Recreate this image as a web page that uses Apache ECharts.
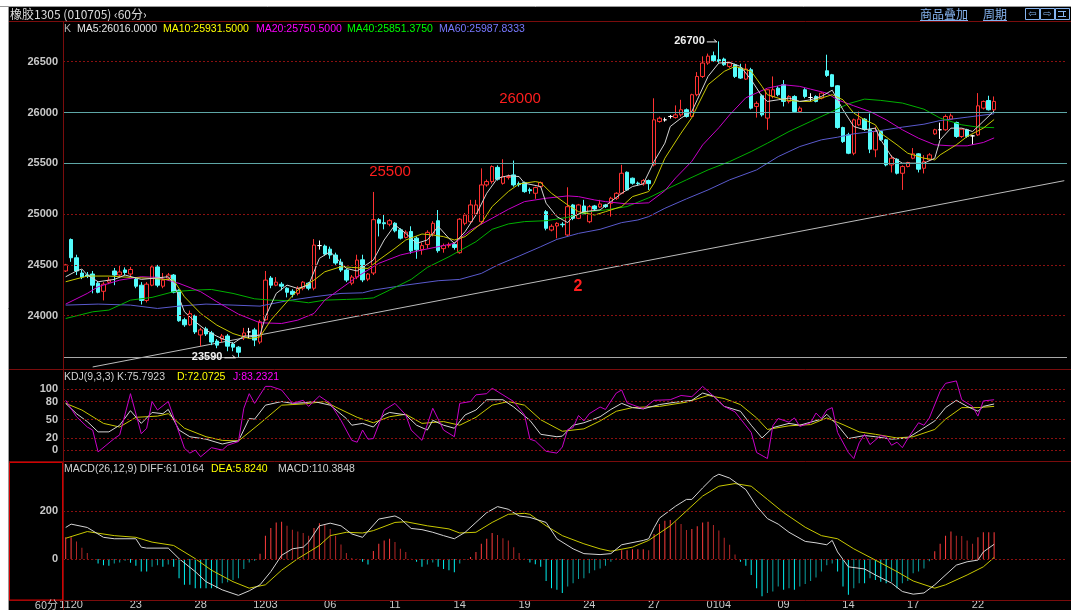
<!DOCTYPE html>
<html>
<head>
<meta charset="utf-8">
<title>橡胶1305 60分</title>
<script src="https://cdn.jsdelivr.net/npm/echarts@6/dist/echarts.min.js"></script>
<style>
html, body { margin: 0; padding: 0; background: #fff; }
#chart { width: 1071px; height: 610px; }
</style>
</head>
<body>
<div id="chart"></div>
<script>
// x axis day marks (bar index -> label)
var dayTicks = [1, 13, 25, 37, 49, 61, 73, 85, 97, 109, 121, 133, 145, 157, 169];
var dayNames = ['1120', '23', '28', '1203', '06', '11', '14', '19', '24', '27', '0104', '09', '14', '17', '22'];

// 60 min bars: open, close, low, high
var candles = [
    [24440,24500,24430,24510],[24750,24570,24530,24760],[24570,24440,24400,24600],[24420,24380,24360,24450],
    [24400,24390,24370,24430],[24410,24300,24220,24440],[24320,24230,24220,24340],[24240,24310,24150,24330],
    [24330,24350,24310,24380],[24440,24400,24300,24470],[24400,24430,24380,24490],[24450,24425,24400,24475],
    [24410,24455,24380,24480],[24360,24290,24270,24380],[24300,24150,24110,24330],[24150,24310,24130,24330],
    [24300,24480,24290,24500],[24480,24300,24280,24500],[24290,24350,24270,24420],[24370,24400,24350,24420],
    [24400,24230,24220,24410],[24250,23950,23940,24260],[23960,23910,23890,23980],[23910,24020,23900,24050],
    [24000,23840,23820,24010],[23810,23860,23700,23880],[23870,23820,23800,23890],[23830,23740,23710,23850],
    [23750,23710,23680,23770],[23770,23800,23740,23820],[23800,23700,23650,23820],[23720,23690,23650,23740],
    [23690,23640,23590,23700],[23800,23830,23760,23880],[23840,23840,23780,23880],[23860,23760,23700,23880],
    [23740,23940,23720,23960],[23960,24350,23950,24440],[24370,24300,24270,24390],[24300,24330,24290,24380],
    [24310,24290,24250,24330],[24270,24230,24180,24280],[24240,24210,24180,24260],[24220,24270,24200,24290],
    [24270,24330,24250,24340],[24320,24270,24250,24330],[24270,24695,24250,24754],[24690,24690,24650,24740],
    [24685,24606,24590,24700],[24655,24597,24560,24680],[24597,24518,24500,24620],[24527,24449,24430,24560],
    [24449,24350,24330,24460],[24320,24380,24300,24400],[24380,24547,24360,24600],[24550,24352,24330,24600],
    [24360,24410,24340,24420],[24420,24945,24400,25218],[24945,24910,24780,24960],[24915,24905,24850,25000],
    [24900,24935,24880,24950],[24910,24835,24820,24920],[24845,24763,24750,24860],[24770,24822,24760,24840],
    [24829,24638,24610,24880],[24763,24648,24560,24780],[24650,24690,24600,24720],[24700,24820,24660,24840],
    [24804,24909,24780,24930],[24935,24640,24620,25040],[24660,24690,24620,24710],[24690,24700,24670,24720],
    [24702,24672,24650,24720],[24620,24950,24610,24960],[24909,24990,24890,25010],[24925,25090,24910,25140],
    [25000,25090,24980,25140],[24925,25287,24900,25450],[25287,25320,25270,25340],[25320,25468,25300,25480],
    [25460,25343,25330,25480],[25303,25369,25290,25540],[25360,25370,25340,25390],[25386,25287,25270,25527],
    [25300,25290,25270,25320],[25310,25221,25210,25320],[25240,25230,25200,25260],[25205,25261,25150,25270],
    [25270,25310,25260,25320],[25024,24860,24840,25040],[24843,24880,24830,24900],[24883,24909,24761,24920],
    [24900,24895,24870,24920],[24794,25073,24780,25264],[25090,24958,24940,25100],[24958,25090,24950,25100],
    [25080,25000,24990,25140],[24925,25073,24910,25090],[25080,25050,25040,25090],[25070,25100,25060,25140],
    [25090,25073,25060,25100],[25106,25156,24975,25170],[25156,25205,25140,25215],[25205,25402,25195,25485],
    [25412,25238,25230,25420],[25353,25304,25290,25360],[25305,25300,25280,25320],[25297,25330,25280,25345],
    [25330,25300,25238,25340],[25485,25928,25470,26140],[25911,25944,25900,25960],[25928,25928,25910,25950],
    [25961,25961,25940,25975],[25950,25977,25940,26070],[25977,26027,25960,26125],[26027,25961,25950,26040],
    [25961,26175,25950,26185],[26175,26355,26160,26398],[26355,26487,26340,26553],[26487,26555,26470,26580],
    [26559,26510,26500,26600],[26520,26503,26490,26700],[26526,26470,26460,26540],[26454,26487,26440,26500],
    [26470,26355,26340,26480],[26438,26339,26330,26480],[26329,26428,26320,26480],[26421,26043,26030,26440],
    [26060,26090,25950,26110],[26165,25977,25960,26180],[25945,26224,25830,26230],[26158,26224,26140,26355],
    [26240,26175,26160,26260],[26273,26109,26060,26320],[26109,26158,26090,26170],[26158,26010,26000,26170],
    [26010,26043,26000,26060],[26224,26158,26140,26240],[26148,26148,26110,26190],[26158,26109,26100,26170],
    [26142,26191,26130,26200],[26411,26365,26350,26569],[26372,26257,26250,26380],[26263,25852,25840,26270],
    [25852,25714,25700,25860],[25780,25599,25590,25800],[25599,25928,25580,25940],[25879,25935,25870,26010],
    [25935,25836,25820,25945],[25830,25639,25600,25990],[25632,25813,25560,25860],[25813,25731,25720,25820],
    [25731,25484,25470,25740],[25484,25550,25410,25580],[25540,25402,25390,25550],[25402,25468,25238,25480],
    [25468,25508,25460,25515],[25550,25593,25540,25650],[25593,25442,25410,25600],[25451,25517,25400,25580],
    [25534,25583,25530,25600],[25790,25830,25780,25840],[25830,25830,25740,25900],[25830,25961,25820,25980],
    [25935,25967,25930,25990],[25902,25764,25750,25910],[25764,25836,25750,25840],[25830,25764,25750,25840],
    [25770,25770,25682,25780],[25780,26066,25770,26191],[26043,26109,26030,26118],[26118,26027,26020,26165],
    [26027,26109,26000,26158]
];

// moving averages: [bar index, value]
var ma5 = [[0,24383],[2,24440],[3,24459],[4,24400],[6,24334],[9,24357],[11,24400],[14,24357],[16,24367],[19,24383],
    [20,24318],[22,24038],[24,23940],[26,23857],[28,23798],[31,23726],[33,23798],[36,23808],[37,23989],[39,24219],
    [41,24301],[43,24268],[45,24301],[47,24564],[49,24630],[52,24465],[54,24440],[57,24548],[59,24745],[61,24893],
    [63,24810],[65,24712],[67,24745],[68,24810],[69,24880],[71,24761],[72,24712],[74,24827],[76,24991],[78,25205],
    [80,25353],[82,25379],[84,25369],[85,25304],[88,25271],[89,25107],[91,24975],[93,24916],[94,24975],[96,25024],
    [99,25041],[101,25123],[103,25205],[105,25271],[107,25297],[109,25517],[111,25698],[112,25862],[114,25945],
    [116,26010],[117,26125],[119,26355],[121,26487],[123,26493],[125,26454],[127,26322],[129,26158],[130,26109],
    [132,26125],[134,26142],[136,26109],[138,26125],[140,26158],[142,26220],[144,26027],[146,25862],[148,25830],
    [150,25846],[151,25731],[153,25566],[155,25501],[157,25501],[159,25501],[161,25550],[162,25731],[164,25846],
    [166,25846],[168,25813],[169,25862],[172,26016]];
var ma10 = [[0,24334],[4,24390],[8,24390],[12,24377],[16,24367],[20,24350],[22,24186],[25,24022],[28,23907],
    [31,23824],[34,23775],[36,23792],[38,23956],[41,24137],[43,24252],[46,24350],[48,24432],[51,24482],[53,24475],
    [56,24465],[58,24548],[61,24663],[63,24745],[66,24804],[68,24794],[70,24778],[72,24745],[74,24778],[77,24909],
    [79,25074],[82,25222],[84,25297],[87,25320],[88,25310],[90,25205],[93,25090],[95,25024],[98,24991],[100,25024],
    [103,25074],[105,25172],[108,25222],[109,25304],[111,25550],[114,25797],[116,25950],[117,26060],[119,26273],
    [122,26405],[124,26454],[125,26438],[127,26405],[129,26257],[130,26175],[133,26125],[136,26109],[138,26109],
    [140,26142],[142,26175],[144,26125],[146,25994],[148,25928],[150,25879],[151,25797],[154,25682],[156,25599],
    [159,25550],[161,25534],[162,25583],[165,25682],[167,25764],[170,25846],[172,25931]];
var ma20 = [[0,24114],[4,24219],[6,24285],[10,24350],[14,24383],[17,24377],[21,24318],[25,24236],[28,24137],
    [32,24015],[36,23930],[40,23923],[43,23956],[46,24022],[48,24153],[51,24268],[54,24383],[58,24515],[62,24597],
    [66,24646],[69,24679],[72,24712],[75,24843],[79,24959],[82,25047],[85,25123],[89,25156],[93,25179],[95,25172],
    [98,25139],[100,25123],[104,25100],[108,25111],[111,25230],[113,25356],[116,25520],[118,25681],[121,25850],
    [123,25977],[126,26145],[130,26240],[133,26273],[136,26257],[138,26230],[141,26191],[143,26125],[146,26066],
    [149,26010],[152,25928],[155,25830],[158,25747],[161,25682],[164,25672],[167,25672],[170,25705],[172,25750]];
var ma40 = [[0,23972],[5,24038],[8,24055],[12,24153],[16,24180],[20,24236],[24,24252],[27,24258],[31,24219],
    [35,24166],[38,24153],[42,24147],[45,24127],[48,24153],[52,24160],[55,24166],[57,24175],[60,24252],[64,24357],
    [67,24475],[71,24580],[76,24728],[79,24850],[82,24903],[85,24926],[89,24935],[93,24968],[97,25024],[100,25041],
    [104,25074],[108,25160],[111,25238],[115,25337],[119,25435],[123,25517],[127,25616],[130,25698],[134,25813],
    [138,25912],[142,26010],[145,26086],[148,26132],[151,26119],[155,26093],[159,26033],[162,25945],[166,25879],
    [169,25856],[172,25851]];
var ma60 = [[0,24104],[6,24114],[12,24104],[17,24071],[21,24094],[26,24114],[31,24104],[36,24094],[41,24147],
    [46,24186],[51,24219],[55,24225],[57,24252],[63,24301],[69,24344],[73,24357],[77,24416],[80,24498],[84,24587],
    [88,24679],[91,24751],[95,24810],[99,24850],[103,24916],[106,24942],[108,24975],[111,25057],[115,25150],
    [119,25238],[123,25337],[128,25435],[132,25566],[136,25665],[140,25731],[143,25757],[146,25790],[151,25823],
    [155,25856],[159,25885],[162,25921],[167,25954],[172,25988]];

// hand drawn support line and price levels
var trendLine = [[5, 23495], [185, 25329]];
var priceGrid = [24000, 24500, 25000, 26500];
var priceMarks = [25500, 26000];
var lowLine = 23590;

// KDJ(9,3,3)
var kdjTicks = [100, 80, 50, 20, 0];
var kLine = [[0,77],[2,60],[4,47],[6,30],[8,30],[10,41],[12,65],[14,44],[16,62],[18,60],[19,67],[21,33],[23,22],
    [26,18],[29,10],[31,14],[32,15],[34,52],[35,51],[37,74],[40,80],[42,77],[44,78],[46,80],[49,74],[52,52],[53,41],
    [55,44],[57,38],[59,58],[60,62],[63,58],[65,41],[67,33],[68,49],[70,41],[72,36],[74,58],[76,66],[78,83],[81,83],
    [83,71],[86,49],[88,26],[91,22],[92,23],[94,41],[96,45],[99,55],[101,67],[103,77],[105,70],[107,68],[110,75],
    [113,79],[116,82],[118,94],[120,89],[122,72],[125,64],[127,41],[129,20],[131,37],[134,44],[136,41],[138,46],
    [140,51],[141,59],[143,41],[145,19],[148,24],[150,22],[153,18],[156,20],[158,31],[161,48],[163,70],[165,82],
    [167,72],[169,64],[170,72],[172,76]];
var dLine = [[0,77],[3,66],[7,44],[10,38],[13,54],[17,56],[19,60],[22,36],[26,22],[29,16],[32,15],[36,44],[40,74],
    [44,76],[48,80],[50,71],[54,54],[57,45],[60,55],[63,59],[66,44],[70,47],[73,41],[76,54],[79,74],[82,80],[85,74],
    [88,50],[92,31],[96,35],[99,48],[102,64],[105,70],[110,72],[115,79],[119,90],[122,85],[125,75],[128,53],[130,34],
    [134,40],[138,42],[141,53],[144,42],[147,30],[150,26],[154,20],[157,22],[161,34],[163,51],[166,70],[169,70],
    [172,72]];
var jLine = [[0,82],[2,55],[4,38],[5,33],[6,-3],[9,19],[10,25],[12,93],[14,27],[15,36],[16,80],[17,66],[19,80],
    [22,3],[23,-5],[24,0],[25,-11],[27,4],[29,0],[30,8],[32,14],[33,69],[34,93],[35,77],[37,105],[38,105],[40,99],
    [42,77],[44,82],[45,72],[47,89],[49,77],[51,49],[53,16],[54,13],[55,33],[56,18],[57,19],[59,66],[61,77],[63,58],
    [64,33],[66,16],[68,69],[70,33],[72,22],[73,77],[75,80],[76,91],[78,93],[79,102],[81,91],[83,80],[85,58],[86,18],
    [87,15],[89,-2],[91,-5],[92,5],[93,34],[94,37],[95,57],[96,48],[97,60],[99,71],[100,67],[102,94],[103,99],
    [104,78],[107,68],[109,82],[112,83],[114,90],[116,88],[118,105],[120,89],[122,72],[124,63],[127,29],[128,-4],
    [130,-14],[131,40],[132,52],[134,46],[135,53],[136,39],[138,45],[139,61],[140,52],[141,66],[142,70],[143,29],
    [145,-4],[146,-14],[147,12],[148,26],[149,9],[151,24],[152,22],[153,8],[154,13],[155,4],[156,19],[158,45],
    [159,41],[160,53],[162,97],[163,110],[165,114],[166,83],[168,72],[169,56],[170,81],[172,83]];

// MACD(26,12,9)
var macdTicks = [200, 0];
var macdBars = [90,90,73,47,25,-3,-19,-26,-29,-19,-15,-8,-16,-29,-53,-53,-33,-26,-33,-23,-33,-81,-108,-108,
    -122,-122,-122,-122,-122,-101,-97,-88,-81,-42,-15,-8,22,97,129,152,155,138,122,114,108,97,129,149,145,125,97,
    60,25,4,1,-12,-23,33,63,77,84,70,42,29,1,-12,-33,-23,-15,-33,-42,-47,-56,-19,-3,8,29,63,84,108,100,86,77,49,25,
    1,-15,-22,-33,-92,-122,-129,-142,-115,-101,-84,-81,-60,-47,-40,-29,-12,2,36,36,40,40,40,36,104,145,159,162,156,
    145,121,125,136,152,155,141,118,88,59,18,-12,-29,-67,-122,-156,-142,-136,-115,-129,-122,-129,-115,-105,-92,
    -78,-53,-26,-19,-53,-115,-149,-122,-101,-101,-81,-88,-95,-101,-95,-122,-101,-92,-60,-53,-40,-10,32,63,97,114,
    97,95,77,63,90,111,111,111];
var diffLine = [[0,131],[1,145],[4,131],[7,90],[9,84],[13,84],[14,49],[15,45],[19,45],[21,1],[24,-53],[26,-95],
    [29,-129],[32,-152],[34,-133],[36,-108],[38,-53],[40,15],[42,42],[44,49],[45,70],[47,138],[49,149],[51,138],
    [53,104],[55,90],[58,166],[61,179],[62,168],[64,127],[66,122],[68,111],[70,97],[72,84],[74,111],[76,152],
    [78,193],[80,218],[82,207],[84,179],[86,173],[89,152],[91,84],[94,42],[96,22],[99,18],[101,22],[103,59],
    [107,77],[108,84],[109,130],[110,170],[113,220],[115,248],[116,248],[118,296],[120,341],[121,353],[123,337],
    [126,289],[128,220],[130,168],[132,145],[134,111],[137,73],[139,67],[141,59],[142,77],[143,29],[145,-33],
    [148,-42],[150,-67],[153,-101],[155,-136],[157,-147],[159,-142],[161,-108],[165,-26],[167,-12],[169,-5],
    [170,29],[172,61]];
var deaLine = [[0,86],[4,114],[9,97],[13,90],[16,70],[20,56],[24,1],[27,-47],[31,-95],[34,-122],[37,-108],
    [40,-47],[43,1],[47,56],[49,97],[52,111],[55,108],[57,118],[61,152],[63,155],[67,138],[71,125],[73,108],
    [76,111],[79,152],[82,186],[85,190],[86,186],[89,138],[92,97],[96,63],[99,42],[101,32],[105,49],[108,77],
    [112,138],[115,200],[118,262],[121,303],[124,314],[127,303],[130,248],[133,193],[137,132],[140,97],[143,84],
    [146,42],[150,-5],[154,-53],[157,-92],[161,-122],[163,-108],[167,-67],[170,-33],[172,6]];

var SLOTS = 186;  // bar slots across the plot, the last ones stay empty
var cats = [];
for (var i = 0; i < SLOTS; i++) {
    cats.push('b' + i);
}

var chart = echarts.init(document.getElementById('chart'));

var numFont = 'Liberation Sans';
var dotRed = {color: '#8a1010', type: [2, 2], width: 1};

function xAxisFor(grid, withLabels) {
    return {
        type: 'category', gridIndex: grid, data: cats, boundaryGap: true,
        axisLine: {show: false}, axisTick: {show: false}, splitLine: {show: false},
        axisLabel: withLabels ? {
            show: true, margin: 1, color: '#c8c8c8', fontSize: 11, fontFamily: numFont,
            interval: function (idx) { return dayTicks.indexOf(idx) >= 0; },
            formatter: function (v, idx) { return dayNames[dayTicks.indexOf(idx)] || ''; }
        } : {show: false}
    };
}

function levelLines(values, lineStyle, showLabel) {
    return values.map(function (v) {
        return {
            yAxis: v, lineStyle: lineStyle,
            label: {show: showLabel, position: 'start', distance: 5, color: '#c8c8c8', fontSize: 11,
                fontWeight: 'bold', fontFamily: numFont, formatter: String(v)}
        };
    });
}

function maLine(name, data, color) {
    return {
        name: name, type: 'line', xAxisIndex: 0, yAxisIndex: 0, data: data,
        showSymbol: false, symbol: 'none', z: 4, silent: true,
        lineStyle: {color: color, width: 1}
    };
}

function subLine(name, grid, data, color, z) {
    return {
        name: name, type: 'line', xAxisIndex: grid, yAxisIndex: grid, data: data,
        showSymbol: false, symbol: 'none', z: z, silent: true,
        lineStyle: {color: color, width: 1}
    };
}

var option = {
    backgroundColor: '#000',
    animation: false,
    grid: [
        {left: 63, right: 4, top: 22, height: 347},
        {left: 63, right: 4, top: 370, height: 91},
        {left: 63, right: 4, top: 462, height: 138}
    ],
    xAxis: [xAxisFor(0, false), xAxisFor(1, false), xAxisFor(2, true)],
    yAxis: [
        {type: 'value', gridIndex: 0, min: 23475, max: 26891, show: false},
        {type: 'value', gridIndex: 1, min: -18, max: 132, show: false},
        {type: 'value', gridIndex: 2, min: -163, max: 404, show: false}
    ],
    series: [
        {
            name: 'trend', type: 'line', xAxisIndex: 0, yAxisIndex: 0, data: trendLine,
            showSymbol: false, symbol: 'none', z: 1, silent: true,
            lineStyle: {color: '#bcbcbc', width: 1},
            markLine: {
                silent: true, symbol: ['none', 'none'], animation: false,
                data: levelLines(priceGrid, dotRed, true)
                    .concat(levelLines(priceMarks, {color: '#5ea6a6', type: 'solid', width: 1}, true))
                    .concat(levelLines([lowLine], {color: '#a8a8a8', type: 'solid', width: 1}, false))
            }
        },
        {
            name: 'K', type: 'candlestick', xAxisIndex: 0, yAxisIndex: 0, data: candles,
            barWidth: 4, z: 3, silent: true,
            itemStyle: {
                color: '#000', borderColor: '#ff3232',
                color0: '#54fcfc', borderColor0: '#54fcfc',
                borderColorDoji: '#ffffff', borderWidth: 1
            }
        },
        maLine('MA60', ma60, '#5a5acd'),
        maLine('MA40', ma40, '#00b000'),
        maLine('MA20', ma20, '#c800c8'),
        maLine('MA10', ma10, '#c8c800'),
        maLine('MA5', ma5, '#d4d4d4'),
        {
            name: 'kdjGrid', type: 'line', xAxisIndex: 1, yAxisIndex: 1, data: [[0, 50]],
            showSymbol: false, symbol: 'none', z: 1, silent: true, lineStyle: {opacity: 0},
            markLine: {silent: true, symbol: ['none', 'none'], animation: false,
                data: levelLines(kdjTicks, dotRed, true)}
        },
        subLine('D', 1, dLine, '#c8c800', 3),
        subLine('K', 1, kLine, '#d4d4d4', 4),
        subLine('J', 1, jLine, '#c800c8', 5),
        {
            name: 'MACD', type: 'bar', xAxisIndex: 2, yAxisIndex: 2, data: macdBars,
            barWidth: 1, z: 2, silent: true,
            itemStyle: {
                color: function (p) {
                    var v = p.value;
                    var prev = p.dataIndex > 0 ? macdBars[p.dataIndex - 1] : v;
                    if (v >= 0) {
                        return v >= prev ? '#ff3c3c' : '#b42828';
                    }
                    return v <= prev ? '#00f0f0' : '#0aa0a0';
                }
            },
            markLine: {silent: true, symbol: ['none', 'none'], animation: false,
                data: levelLines(macdTicks, dotRed, true)}
        },
        subLine('DEA', 2, deaLine, '#c8c800', 3),
        subLine('DIFF', 2, diffLine, '#d4d4d4', 4)
    ]
};
chart.setOption(option);

// extremes marked on the chart
var hiIdx = 0, loIdx = 0;
candles.forEach(function (c, i) {
    if (c[3] > candles[hiIdx][3]) hiIdx = i;
    if (c[2] < candles[loIdx][2]) loIdx = i;
});
var pHi = chart.convertToPixel({seriesIndex: 1}, [hiIdx, candles[hiIdx][3]]);
var pLo = chart.convertToPixel({seriesIndex: 1}, [loIdx, candles[loIdx][2]]);

function txt(x, y, s, color, font, align) {
    return {type: 'text', x: x, y: y, silent: true, z: 50,
        style: {text: s, fill: color, font: font, textAlign: align || 'left', textVerticalAlign: 'middle'}};
}
function ln(x1, y1, x2, y2, color) {
    return {type: 'line', silent: true, z: 40, shape: {x1: x1, y1: y1, x2: x2, y2: y2},
        style: {stroke: color, lineWidth: 1}};
}

var small = '10.5px "Liberation Sans"';
var bold = 'bold 11px "Liberation Sans"';
var cjk = '12px "Noto Sans CJK SC"';
var sep = '#7a0c0c';
var link = '#86b4f0';

var graphics = [
    // outer frame
    {type: 'rect', silent: true, z: 30, shape: {x: 0, y: 0, width: 1071, height: 7}, style: {fill: '#fff'}},
    {type: 'rect', silent: true, z: 30, shape: {x: 0, y: 0, width: 8, height: 610}, style: {fill: '#fff'}},
    ln(0, 6.5, 1071, 6.5, '#9a9a9a'),
    ln(8.5, 7, 8.5, 610, '#9a9a9a'),
    // panel separators
    ln(9, 21.5, 1071, 21.5, sep),
    ln(9, 369.5, 1071, 369.5, sep),
    ln(9, 461.5, 1071, 461.5, sep),
    ln(9, 600.5, 1071, 600.5, sep),
    ln(63.5, 22, 63.5, 610, sep),
    {type: 'rect', silent: true, z: 41, shape: {x: 9.5, y: 462.5, width: 53, height: 137.5},
        style: {fill: 'none', stroke: '#d00000', lineWidth: 1}},
    // title bar
    txt(10, 14, '橡胶1305 (010705) ‹60分›', '#dcdcdc', cjk),
    txt(920, 14, '商品叠加', link, cjk),
    ln(920, 20.5, 968, 20.5, link),
    txt(983, 14, '周期', link, cjk),
    ln(983, 20.5, 1007, 20.5, link),
    {type: 'rect', silent: true, z: 41, shape: {x: 1025.5, y: 8.5, width: 14, height: 11},
        style: {fill: 'none', stroke: link, lineWidth: 1}},
    {type: 'rect', silent: true, z: 41, shape: {x: 1040.5, y: 8.5, width: 14, height: 11},
        style: {fill: 'none', stroke: link, lineWidth: 1}},
    {type: 'rect', silent: true, z: 41, shape: {x: 1055.5, y: 8.5, width: 14, height: 11},
        style: {fill: 'none', stroke: link, lineWidth: 1}},
    txt(1032.5, 14, '⇦', link, '10px "DejaVu Sans"', 'center'),
    txt(1047.5, 14, '⇨', link, '10px "DejaVu Sans"', 'center'),
    ln(1058, 11.5, 1066, 11.5, link),
    ln(1058, 16.5, 1066, 16.5, link),
    ln(1063.5, 11, 1063.5, 17, link),
    // indicator captions
    txt(64, 29, 'K', '#b4b4b4', small),
    txt(77, 29, 'MA5:26016.0000', '#e6e6e6', small),
    txt(163, 29, 'MA10:25931.5000', '#ffff00', small),
    txt(256, 29, 'MA20:25750.5000', '#ff00ff', small),
    txt(347, 29, 'MA40:25851.3750', '#00ff00', small),
    txt(439, 29, 'MA60:25987.8333', '#7878ff', small),
    txt(64, 377, 'KDJ(9,3,3) K:75.7923', '#d0d0d0', small),
    txt(177, 377, 'D:72.0725', '#ffff00', small),
    txt(233, 377, 'J:83.2321', '#ff00ff', small),
    txt(64, 469, 'MACD(26,12,9) DIFF:61.0164', '#d0d0d0', small),
    txt(211, 469, 'DEA:5.8240', '#ffff00', small),
    txt(278, 469, 'MACD:110.3848', '#d0d0d0', small),
    txt(58, 605, '60分', '#c8c8c8', '11px "Noto Sans CJK SC"', 'right'),
    // high / low markers
    txt(pHi[0] - 14, pHi[1], String(candles[hiIdx][3]), '#f0f0f0', bold, 'right'),
    ln(pHi[0] - 12, pHi[1] + 0.5, pHi[0] - 2, pHi[1] + 0.5, '#f0f0f0'),
    ln(pHi[0] - 5, pHi[1] - 2, pHi[0] - 2, pHi[1] + 0.5, '#f0f0f0'),
    txt(pLo[0] - 16, pLo[1], String(candles[loIdx][2]), '#f0f0f0', bold, 'right'),
    ln(pLo[0] - 14, pLo[1] + 0.5, pLo[0] - 3, pLo[1] + 0.5, '#f0f0f0'),
    ln(pLo[0] - 6, pLo[1] - 2, pLo[0] - 3, pLo[1] + 0.5, '#f0f0f0'),
    // hand written notes
    txt(520, 99, '26000', '#ff1e1e', '15px "Liberation Sans"', 'center'),
    txt(390, 172, '25500', '#ff1e1e', '15px "Liberation Sans"', 'center'),
    txt(578, 287, '2', '#ff1e1e', 'bold 16px "Liberation Sans"', 'center')
];
chart.setOption({graphic: graphics});
</script>
</body>
</html>
